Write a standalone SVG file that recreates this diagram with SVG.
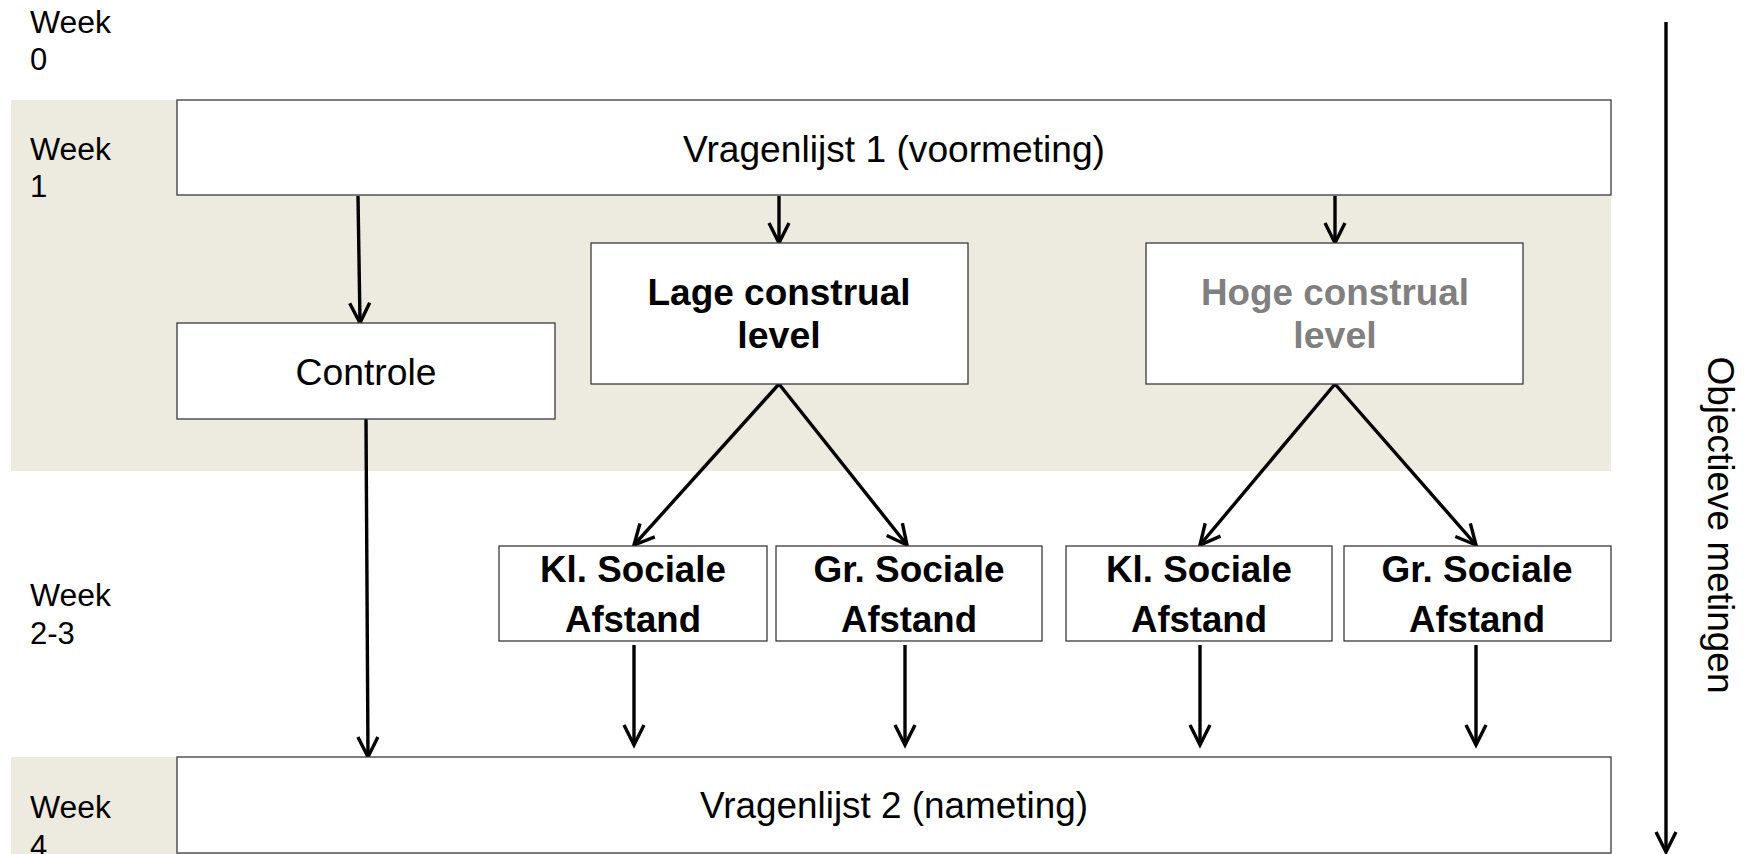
<svg xmlns="http://www.w3.org/2000/svg" width="1750" height="854" viewBox="0 0 1750 854">
<style>
.band{fill:#EDEAE0}
.box{fill:#fff;stroke:#3a3a3a;stroke-width:1.3}
.wk{font-family:"Liberation Sans",Arial,sans-serif;font-size:31px;fill:#000}
.t{font-family:"Liberation Sans",Arial,sans-serif;font-size:37px;fill:#000;text-anchor:middle}
.b{font-family:"Liberation Sans",Arial,sans-serif;font-size:37.5px;font-weight:bold;fill:#000;text-anchor:middle}
.g{fill:#808080}
.ar{stroke:#000;stroke-width:3.4;fill:none;marker-end:url(#ah)}
</style>
<defs>
<marker id="ah" markerUnits="userSpaceOnUse" viewBox="-24 -14 28 28" refX="0" refY="0" markerWidth="28" markerHeight="28" orient="auto" overflow="visible">
<path d="M-20,-10 L0,0 L-20,10" fill="none" stroke="#000" stroke-width="3.4" stroke-linejoin="miter"/>
</marker>
</defs>
<rect width="1750" height="854" fill="#fff"/>
<g id="bands">
<rect class="band" x="11" y="100" width="1600" height="371"/>
<rect class="band" x="11" y="757" width="1600" height="97"/>
</g>
<g id="week-labels">
<text class="wk" x="30" y="33" textLength="81" lengthAdjust="spacingAndGlyphs">Week</text>
<text class="wk" x="30" y="70">0</text>
<text class="wk" x="30" y="160" textLength="81" lengthAdjust="spacingAndGlyphs">Week</text>
<text class="wk" x="30" y="197">1</text>
<text class="wk" x="30" y="606" textLength="81" lengthAdjust="spacingAndGlyphs">Week</text>
<text class="wk" x="30" y="644">2-3</text>
<text class="wk" x="30" y="818" textLength="81" lengthAdjust="spacingAndGlyphs">Week</text>
<text class="wk" x="30" y="857">4</text>
</g>
<g id="connectors">
<line class="ar" x1="358" y1="196" x2="360" y2="323"/>
<line class="ar" x1="779" y1="196" x2="779" y2="243"/>
<line class="ar" x1="1335" y1="196" x2="1335" y2="243"/>
<line class="ar" x1="366" y1="419" x2="368" y2="757"/>
<line class="ar" x1="779" y1="384" x2="634" y2="545"/>
<line class="ar" x1="779" y1="384" x2="907" y2="545"/>
<line class="ar" x1="1335" y1="384" x2="1200" y2="545"/>
<line class="ar" x1="1335" y1="384" x2="1476" y2="545"/>
<line class="ar" x1="634" y1="645" x2="634" y2="745"/>
<line class="ar" x1="905" y1="645" x2="905" y2="745"/>
<line class="ar" x1="1200" y1="645" x2="1200" y2="745"/>
<line class="ar" x1="1476" y1="645" x2="1476" y2="745"/>
<line class="ar" x1="1666" y1="22" x2="1666" y2="852"/>
</g>
<g id="vragenlijst1">
<rect class="box" x="177" y="100" width="1434" height="95"/>
<text class="t" x="894" y="162" textLength="422" lengthAdjust="spacingAndGlyphs">Vragenlijst 1 (voormeting)</text>
</g>
<g id="controle">
<rect class="box" x="177" y="323" width="378" height="96"/>
<text class="t" x="366" y="385" textLength="141" lengthAdjust="spacingAndGlyphs">Controle</text>
</g>
<g id="lage">
<rect class="box" x="591" y="243" width="377" height="141"/>
<text class="b" x="779" y="305" textLength="263" lengthAdjust="spacingAndGlyphs">Lage construal</text>
<text class="b" x="779" y="348">level</text>
</g>
<g id="hoge">
<rect class="box" x="1146" y="243" width="377" height="141"/>
<text class="b g" x="1335" y="305" textLength="268" lengthAdjust="spacingAndGlyphs">Hoge construal</text>
<text class="b g" x="1335" y="348">level</text>
</g>
<g id="kl1">
<rect class="box" x="499" y="546" width="268" height="95"/>
<text class="b" x="633" y="582" textLength="186" lengthAdjust="spacingAndGlyphs">Kl. Sociale</text>
<text class="b" x="633" y="632" textLength="136" lengthAdjust="spacingAndGlyphs">Afstand</text>
</g>
<g id="gr1">
<rect class="box" x="776" y="546" width="266" height="95"/>
<text class="b" x="909" y="582" textLength="191" lengthAdjust="spacingAndGlyphs">Gr. Sociale</text>
<text class="b" x="909" y="632" textLength="136" lengthAdjust="spacingAndGlyphs">Afstand</text>
</g>
<g id="kl2">
<rect class="box" x="1066" y="546" width="266" height="95"/>
<text class="b" x="1199" y="582" textLength="186" lengthAdjust="spacingAndGlyphs">Kl. Sociale</text>
<text class="b" x="1199" y="632" textLength="136" lengthAdjust="spacingAndGlyphs">Afstand</text>
</g>
<g id="gr2">
<rect class="box" x="1344" y="546" width="267" height="95"/>
<text class="b" x="1477" y="582" textLength="191" lengthAdjust="spacingAndGlyphs">Gr. Sociale</text>
<text class="b" x="1477" y="632" textLength="136" lengthAdjust="spacingAndGlyphs">Afstand</text>
</g>
<g id="vragenlijst2">
<rect class="box" x="177" y="757" width="1434" height="96"/>
<text class="t" x="894" y="818" textLength="388" lengthAdjust="spacingAndGlyphs">Vragenlijst 2 (nameting)</text>
</g>
<g id="axis-label">
<text class="t" transform="translate(1708,525) rotate(90)" x="0" y="0" textLength="337" lengthAdjust="spacingAndGlyphs">Objectieve metingen</text>
</g>
</svg>
